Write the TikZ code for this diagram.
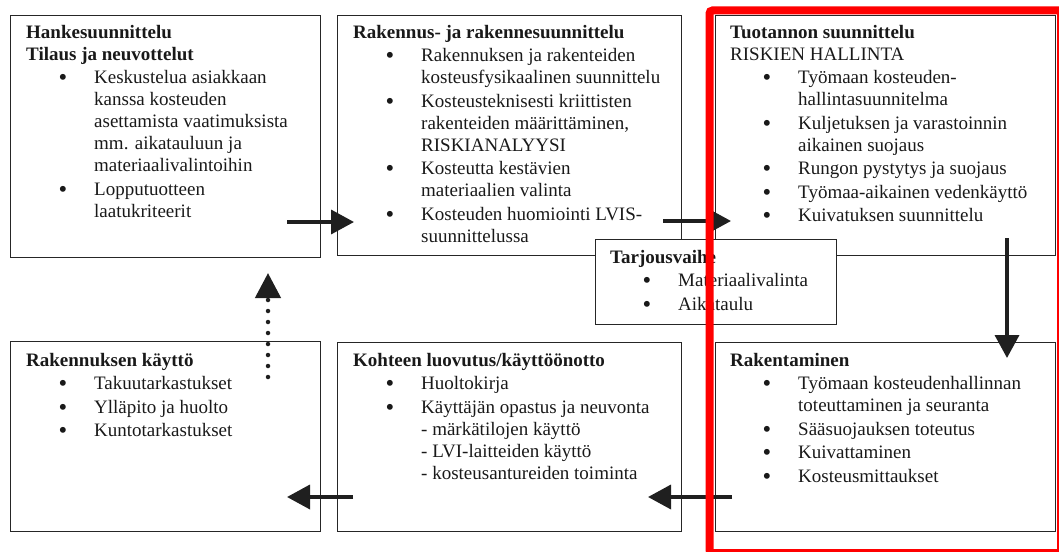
\documentclass[tikz,border=0pt]{standalone}
\usepackage{fontspec}
\usepackage{graphicx}
\setmainfont{Liberation Serif}
\usetikzlibrary{arrows.meta}
\newcommand\bt[1]{\makebox[68pt][l]{\hspace{32.5pt}\raisebox{-2pt}{\scalebox{1.3}{\textbullet}}}#1}
\newcommand\ct{\hspace*{68pt}}
\begin{document}
\begin{tikzpicture}[x=1pt,y=-1pt,
  font=\fontsize{19}{22}\selectfont,
  box/.style={draw=black!85, line width=1.4pt, anchor=north west, inner sep=0pt},
  txt/.style={anchor=base west, inner sep=0pt, text=black!90},
  conn/.style={draw=black!88, line width=3.6pt, -{Triangle[length=23pt,width=24pt]}},
  dotconn/.style={draw=black!88, line width=4.5pt, line cap=round, dash pattern=on 0pt off 11pt, -{Triangle[length=25pt,width=25pt]}},
  redframe/.style={draw=red, line width=8pt, rounded corners=3pt}]
\useasboundingbox (0,0) rectangle (1059,551);
% boxes
\node[box, minimum width=310pt, minimum height=242pt] (A) at (10,15) {};
\node[box, minimum width=344pt, minimum height=240pt] (B) at (337,15) {};
\node[box, minimum width=340pt, minimum height=240pt] (C) at (715,15) {};
\node[box, minimum width=310pt, minimum height=190pt] (D) at (10,341) {};
\node[box, minimum width=344pt, minimum height=189pt] (E) at (337,342) {};
\node[box, minimum width=340pt, minimum height=189pt] (F) at (715,342) {};
\node[box, fill=white, minimum width=241pt, minimum height=85pt] (T) at (595,239) {};
% texts
\node[txt] (At) at (26,38) {\parbox[t]{400pt}{\raggedright
 \textbf{Hankesuunnittelu}\\
 \textbf{Tilaus ja neuvottelut}\\[1.5pt]
 \bt{Keskustelua asiakkaan}\\
 \ct kanssa kosteuden\\
 \ct asettamista vaatimuksista\\
 \ct mm. aikatauluun ja\\
 \ct materiaalivalintoihin\\[1.5pt]
 \bt{Lopputuotteen}\\
 \ct laatukriteerit}};
\node[txt] (Bt) at (353,38) {\parbox[t]{400pt}{\raggedright
 \textbf{Rakennus- ja rakennesuunnittelu}\\[1.5pt]
 \bt{Rakennuksen ja rakenteiden}\\
 \ct kosteusfysikaalinen suunnittelu\\[1.5pt]
 \bt{Kosteusteknisesti kriittisten}\\
 \ct rakenteiden määrittäminen,\\
 \ct RISKIANALYYSI\\[1.5pt]
 \bt{Kosteutta kestävien}\\
 \ct materiaalien valinta\\[1.5pt]
 \bt{Kosteuden huomiointi LVIS-}\\
 \ct suunnittelussa}};
\node[txt] (Ct) at (730,38) {\parbox[t]{400pt}{\raggedright
 \textbf{Tuotannon suunnittelu}\\
 RISKIEN HALLINTA\\[1.5pt]
 \bt{Työmaan kosteuden-}\\
 \ct hallintasuunnitelma\\[1.5pt]
 \bt{Kuljetuksen ja varastoinnin}\\
 \ct aikainen suojaus\\[1.5pt]
 \bt{Rungon pystytys ja suojaus}\\[1.5pt]
 \bt{Työmaa-aikainen vedenkäyttö}\\[1.5pt]
 \bt{Kuivatuksen suunnittelu}}};
\node[txt] (Tt) at (610,263) {\parbox[t]{400pt}{\raggedright
 \textbf{Tarjousvaihe}\\[1.5pt]
 \bt{Materiaalivalinta}\\[1.5pt]
 \bt{Aikataulu}}};
\node[txt] (Dt) at (26,366) {\parbox[t]{400pt}{\raggedright
 \textbf{Rakennuksen käyttö}\\[1.5pt]
 \bt{Takuutarkastukset}\\[1.5pt]
 \bt{Ylläpito ja huolto}\\[1.5pt]
 \bt{Kuntotarkastukset}}};
\node[txt] (Et) at (353,366) {\parbox[t]{400pt}{\raggedright
 \textbf{Kohteen luovutus/käyttöönotto}\\[1.5pt]
 \bt{Huoltokirja}\\[1.5pt]
 \bt{Käyttäjän opastus ja neuvonta}\\
 \ct - märkätilojen käyttö\\
 \ct - LVI-laitteiden käyttö\\
 \ct - kosteusantureiden toiminta}};
\node[txt] (Ft) at (730,366) {\parbox[t]{400pt}{\raggedright
 \textbf{Rakentaminen}\\[1.5pt]
 \bt{Työmaan kosteudenhallinnan}\\
 \ct toteuttaminen ja seuranta\\[1.5pt]
 \bt{Sääsuojauksen toteutus}\\[1.5pt]
 \bt{Kuivattaminen}\\[1.5pt]
 \bt{Kosteusmittaukset}}};
% connector ends
\coordinate (ab1) at (287,222); \coordinate (ab2) at (354,222);
\coordinate (bc1) at (663,221); \coordinate (bc2) at (731,221);
\coordinate (cf1) at (1007,238); \coordinate (cf2) at (1007,358);
\coordinate (fe1) at (732,497); \coordinate (fe2) at (648,497);
\coordinate (ed1) at (353,497); \coordinate (ed2) at (287,497);
\coordinate (da1) at (268,377); \coordinate (da2) at (268,273);
\draw[conn] (ab1) -- (ab2);
\draw[conn] (bc1) -- (bc2);
\draw[conn] (cf1) -- (cf2);
\draw[conn] (fe1) -- (fe2);
\draw[conn] (ed1) -- (ed2);
\draw[dotconn] (da1) -- (da2);
% red frame
\draw[redframe] (709.5,10.5) rectangle (1061,553);
\end{tikzpicture}
\end{document}
